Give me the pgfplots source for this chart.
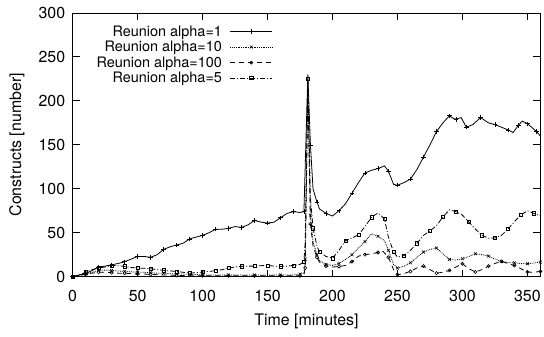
\documentclass[border=0pt]{standalone}
\usepackage{fontspec}
\setmainfont{TeX Gyre Heros}
\usepackage{pgfplots}
\pgfplotsset{compat=1.18}
\usepackage{pgfplotstable}

\pgfplotstableread{
x y
0 0
5 2
10 3.5
15 7
20 11
25 12
30 13.5
35 15
40 17
45 20
50 23
55 23
60 22
65 25
70 31
75 34
80 36
85 38
90 43
95 45
100 47
105 50
110 54
115 54
120 55
125 57
130 56
135 59
140 64
145 62
150 61
155 62
160 67
165 72
170 74
175 73
178 74
181 230
183 150
185 100
188 85
190 77
195 72
200 69
205 75
210 83
215 95
220 107
225 118
230 121
235 123
240 126
243 120
247 105
250 104
255 107
260 111
265 122
270 136
275 150
280 165
285 175
290 183
293 180
295 179
299 181
303 170
308 173
314 181
320 175
325 173
330 170
335 167
339 164
343 172
346 177
350 174
354 169
357 165
360 160
}\alphaone

\pgfplotstableread{
x y
0 0
5 1.5
10 3
15 5
20 7
25 7.5
30 7
35 6.5
40 6
45 5.5
50 5
55 5
60 4.5
65 4
70 4
75 3.5
80 3
85 3
90 2.5
95 2.5
100 2
110 2
120 2
130 2
140 2
150 2
160 2
170 2
175 3
178 4
179 20
181 220
183 70
185 40
188 25
190 18.5
195 14
200 12.8
205 15
210 19.6
215 25
220 32.5
225 40
230 48.7
235 46
240 41
243 30
247 14
250 9.8
255 12
260 15.8
265 22
270 28
275 31
280 32.5
285 26
290 19.6
295 19
300 20.4
305 23
310 26
315 25
320 23.4
325 20
330 17.4
335 16
340 15.8
345 15
350 14.7
355 15.5
360 16.6
}\alphaten

\pgfplotstableread{
x y
0 0
5 1
10 3
15 4
20 5
25 5
30 4.5
35 4
40 4
45 3.5
50 3
55 3
60 2.5
70 2
80 1.5
90 1
100 1
110 1
120 1
130 1
140 1
150 1
160 1
170 1
175 1
178 2
179 10
181 215
183 60
185 35
188 22
190 16.6
195 12
200 11
205 11.5
210 12.8
215 17
220 23.4
225 25
230 26
235 27.5
239 28.7
243 22
247 8
250 2.3
255 3.5
260 6
265 10
270 12
275 8
280 4
285 5
290 7.2
295 11
300 14.7
305 9
310 5.3
315 8
320 12
325 15
330 17.4
335 15
340 12.8
345 9
350 5.3
355 5
360 6
}\alphahundred

\pgfplotstableread{
x y
0 0
5 2
10 5
15 8
20 10
25 11
30 12.8
35 12.5
40 11.7
45 10.5
50 9.8
55 9.5
60 9
65 8
70 7.2
75 6.5
80 6
85 5
90 4.1
95 4.5
100 5.3
105 6
110 6.8
115 8
120 9.8
125 11
130 11.7
135 12
140 12
145 12.5
150 12.8
155 12
160 11.7
165 12
170 12.8
175 14
178 17
179 40
181 225
183 90
185 55
188 35
190 28
195 23
200 21
205 30
210 41
215 44
220 47.6
225 57
230 67.6
235 72.5
240 65.7
243 45
247 28
250 22.3
255 24
260 30
265 38
270 47
275 52
280 58
285 68
290 76
295 74
300 70
305 62
310 54
315 47
320 43.8
325 44
330 47
335 54
340 62.6
345 70
350 75
355 72
360 69
}\alphafive

\begin{document}
\begin{tikzpicture}
\begin{axis}[
  scale only axis,
  width=470pt, height=265pt,
  xmin=0, xmax=360, ymin=0, ymax=300,
  xtick={0,50,...,350}, ytick={0,50,...,300},
  tick align=inside,
  major tick length=7pt,
  axis line style={line width=0.8pt},
  every tick/.style={line width=0.8pt, black},
  tick label style={font=\fontsize{16}{19}\selectfont},
  /pgf/number format/assume math mode=true,
  every x tick label/.style={anchor=center, yshift=-19pt},
  every y tick label/.style={anchor=east, xshift=-4pt},
  xlabel={Time [minutes]},
  ylabel={Constructs [number]},
  every axis x label/.style={at={(rel axis cs:0.5,0)}, anchor=center, yshift=-45pt, font=\fontsize{16}{19}\selectfont},
  every axis y label/.style={at={(rel axis cs:0,0.5)}, anchor=center, xshift=-56pt, rotate=90, font=\fontsize{16}{19}\selectfont},
  legend plot pos=right,
  legend cell align=right,
  legend style={at={(rel axis cs:0.432,0.968)}, anchor=north east, draw=none, fill=none,
    font=\fontsize{14.5}{17}\selectfont, row sep=-0.5pt, column sep=6pt, inner sep=2pt},
  legend image code/.code={\draw[mark repeat=2,mark phase=2,#1] plot coordinates {(0pt,0pt) (21pt,0pt) (42pt,0pt)};},
  every axis plot/.append style={line width=0.8pt, black},
  mark options={solid, line width=0.6pt},
]
\addplot[mark=+, mark size=2.2pt, mark repeat=2] table {\alphaone};
\addlegendentry{Reunion alpha=1}
\addplot[densely dotted, mark=x, mark size=2pt, mark repeat=2] table {\alphaten};
\addlegendentry{Reunion alpha=10}
\addplot[dashed, dash pattern=on 5pt off 4pt, mark=o, mark size=1.6pt, mark repeat=2] table {\alphahundred};
\addlegendentry{Reunion alpha=100}
\addplot[dash pattern=on 5pt off 2pt on 1pt off 2pt, mark=square, mark size=1.6pt, mark repeat=2] table {\alphafive};
\addlegendentry{Reunion alpha=5}
\end{axis}
\path[use as bounding box] (-73pt,-60pt) rectangle (471pt,278pt);
\end{tikzpicture}
\end{document}
